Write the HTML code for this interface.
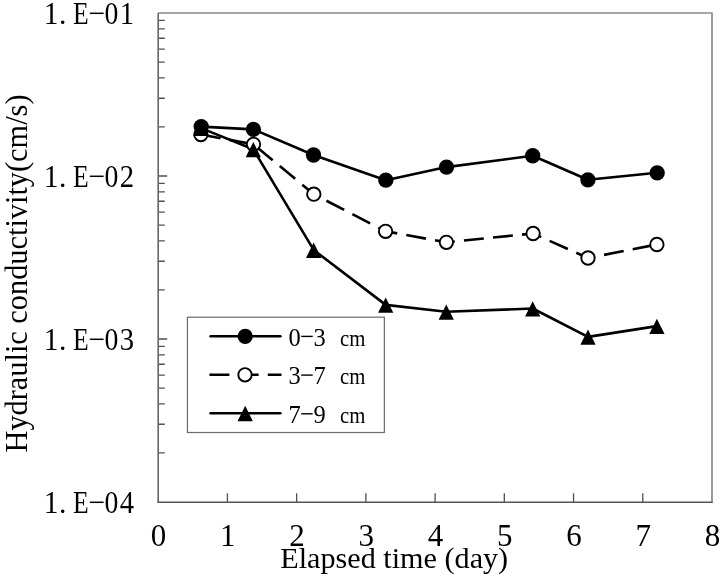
<!DOCTYPE html><html><head><meta charset="utf-8"><style>html,body{margin:0;padding:0;background:#fff;}svg{display:block;will-change:transform;}</style></head><body>
<svg width="720" height="577" viewBox="0 0 720 577">
<rect width="720" height="577" fill="#fff"/>
<path d="M158.20 126.93H164.80M158.20 98.23H164.80M158.20 77.86H164.80M158.20 62.07H164.80M158.20 49.16H164.80M158.20 38.25H164.80M158.20 28.80H164.80M158.20 20.46H164.80M158.20 289.93H164.80M158.20 261.23H164.80M158.20 240.86H164.80M158.20 225.07H164.80M158.20 212.16H164.80M158.20 201.25H164.80M158.20 191.80H164.80M158.20 183.46H164.80M158.20 176.00H167.20M158.20 452.93H164.80M158.20 424.23H164.80M158.20 403.86H164.80M158.20 388.07H164.80M158.20 375.16H164.80M158.20 364.25H164.80M158.20 354.80H164.80M158.20 346.46H164.80M158.20 339.00H167.20M227.42 502.00V493.20M296.65 502.00V493.20M365.88 502.00V493.20M435.10 502.00V493.20M504.32 502.00V493.20M573.55 502.00V493.20M642.77 502.00V493.20" stroke="#505050" stroke-width="1.3" fill="none"/>
<path d="M158.2 13.0H712.0V502.0" fill="none" stroke="#8a8a8a" stroke-width="1.7" stroke-linejoin="round"/>
<path d="M158.2 502.2V13.0" fill="none" stroke="#666" stroke-width="1.6"/>
<path d="M157.39999999999998 502.2H712.8" fill="none" stroke="#555" stroke-width="1.4"/>
<polyline points="201.0,128.1 253.3,149.3 313.65,249.95 385.7,304.9 446.25,311.8 532.7,308.5 588.0,336.9 656.9,326.1" fill="none" stroke="#000" stroke-width="2.6" stroke-linejoin="round"/>
<polyline points="200.9,134.5 253.5,144.3 313.8,194.2 385.6,231.3 446.4,242.3 533.1,233.5 588.0,258.0 656.9,244.5" fill="none" stroke="#000" stroke-width="2.6" stroke-dasharray="20 9.2" stroke-linejoin="round"/>
<polyline points="201.2,126.6 253.4,129.4 313.5,155.0 385.8,180.2 446.5,167.1 532.7,155.75 587.9,179.8 657.2,172.8" fill="none" stroke="#000" stroke-width="2.6" stroke-linejoin="round"/>
<circle cx="201.2" cy="126.6" r="7.65" fill="#000"/>
<circle cx="253.4" cy="129.4" r="7.65" fill="#000"/>
<circle cx="313.5" cy="155.0" r="7.65" fill="#000"/>
<circle cx="385.8" cy="180.2" r="7.65" fill="#000"/>
<circle cx="446.5" cy="167.1" r="7.65" fill="#000"/>
<circle cx="532.7" cy="155.75" r="7.65" fill="#000"/>
<circle cx="587.9" cy="179.8" r="7.65" fill="#000"/>
<circle cx="657.2" cy="172.8" r="7.65" fill="#000"/>
<circle cx="200.9" cy="134.5" r="6.7" fill="#fff" stroke="#000" stroke-width="1.9"/>
<circle cx="253.5" cy="144.3" r="6.7" fill="#fff" stroke="#000" stroke-width="1.9"/>
<circle cx="313.8" cy="194.2" r="6.7" fill="#fff" stroke="#000" stroke-width="1.9"/>
<circle cx="385.6" cy="231.3" r="6.7" fill="#fff" stroke="#000" stroke-width="1.9"/>
<circle cx="446.4" cy="242.3" r="6.7" fill="#fff" stroke="#000" stroke-width="1.9"/>
<circle cx="533.1" cy="233.5" r="6.7" fill="#fff" stroke="#000" stroke-width="1.9"/>
<circle cx="588.0" cy="258.0" r="6.7" fill="#fff" stroke="#000" stroke-width="1.9"/>
<circle cx="656.9" cy="244.5" r="6.7" fill="#fff" stroke="#000" stroke-width="1.9"/>
<path d="M201.00 120.75L208.65 136.05L193.35 136.05Z" fill="#000"/>
<path d="M253.30 141.95L260.95 157.25L245.65 157.25Z" fill="#000"/>
<path d="M313.65 242.60L321.30 257.90L306.00 257.90Z" fill="#000"/>
<path d="M385.70 297.55L393.35 312.85L378.05 312.85Z" fill="#000"/>
<path d="M446.25 304.45L453.90 319.75L438.60 319.75Z" fill="#000"/>
<path d="M532.70 301.15L540.35 316.45L525.05 316.45Z" fill="#000"/>
<path d="M588.00 329.55L595.65 344.85L580.35 344.85Z" fill="#000"/>
<path d="M656.90 318.75L664.55 334.05L649.25 334.05Z" fill="#000"/>
<rect x="187.45" y="317.2" width="196.9" height="115.3" fill="#fff" stroke="#6a6a6a" stroke-width="1.2"/>
<line x1="210.6" y1="336.3" x2="280.4" y2="336.3" stroke="#000" stroke-width="2.6" stroke-linecap="round"/>
<line x1="209.4" y1="374.8" x2="281.5" y2="374.8" stroke="#000" stroke-width="2.6" stroke-dasharray="20 9.2"/>
<line x1="210.6" y1="413.3" x2="280.4" y2="413.3" stroke="#000" stroke-width="2.6" stroke-linecap="round"/>
<circle cx="245.2" cy="336.3" r="7.65" fill="#000"/>
<circle cx="245.0" cy="374.8" r="6.7" fill="#fff" stroke="#000" stroke-width="1.9"/>
<path d="M245.20 405.85L252.85 421.15L237.55 421.15Z" fill="#000"/>
<text style="font-family:&quot;Liberation Serif&quot;,serif" font-size="24.5" text-anchor="middle" y="345.7"><tspan x="294.6">0</tspan><tspan x="319.5">3</tspan></text>
<line x1="301.2" x2="312.7" y1="336.4" y2="336.4" stroke="#000" stroke-width="1.4"/>
<text style="font-family:&quot;Liberation Serif&quot;,serif" font-size="23" x="340.1" y="345.5" textLength="25.4" lengthAdjust="spacingAndGlyphs">cm</text>
<text style="font-family:&quot;Liberation Serif&quot;,serif" font-size="24.5" text-anchor="middle" y="384.4"><tspan x="294.6">3</tspan><tspan x="319.5">7</tspan></text>
<line x1="301.2" x2="312.7" y1="375.1" y2="375.1" stroke="#000" stroke-width="1.4"/>
<text style="font-family:&quot;Liberation Serif&quot;,serif" font-size="23" x="340.1" y="384.2" textLength="25.4" lengthAdjust="spacingAndGlyphs">cm</text>
<text style="font-family:&quot;Liberation Serif&quot;,serif" font-size="24.5" text-anchor="middle" y="423.1"><tspan x="294.6">7</tspan><tspan x="319.5">9</tspan></text>
<line x1="301.2" x2="312.7" y1="413.8" y2="413.8" stroke="#000" stroke-width="1.4"/>
<text style="font-family:&quot;Liberation Serif&quot;,serif" font-size="23" x="340.1" y="422.9" textLength="25.4" lengthAdjust="spacingAndGlyphs">cm</text>
<text style="font-family:&quot;Liberation Serif&quot;,serif" font-size="29.5" text-anchor="middle" transform="matrix(1.0 0 0 1.08 51.1 23.80)">1</text>
<text style="font-family:&quot;Liberation Serif&quot;,serif" font-size="29.5" text-anchor="middle" transform="matrix(1.0 0 0 1.0 62.6 23.80)">.</text>
<text style="font-family:&quot;Liberation Serif&quot;,serif" font-size="29.5" text-anchor="middle" transform="matrix(0.87 0 0 1.08 80.95 23.80)">E</text>
<text style="font-family:&quot;Liberation Serif&quot;,serif" font-size="29.5" text-anchor="middle" transform="matrix(0.94 0 0 1.08 111.4 23.80)">0</text>
<text style="font-family:&quot;Liberation Serif&quot;,serif" font-size="29.5" text-anchor="middle" transform="matrix(0.97 0 0 1.08 126.8 23.80)">1</text>
<line x1="89.8" x2="103.6" y1="13.3" y2="13.3" stroke="#000" stroke-width="1.5"/>
<text style="font-family:&quot;Liberation Serif&quot;,serif" font-size="29.5" text-anchor="middle" transform="matrix(1.0 0 0 1.08 51.1 186.80)">1</text>
<text style="font-family:&quot;Liberation Serif&quot;,serif" font-size="29.5" text-anchor="middle" transform="matrix(1.0 0 0 1.0 62.6 186.80)">.</text>
<text style="font-family:&quot;Liberation Serif&quot;,serif" font-size="29.5" text-anchor="middle" transform="matrix(0.87 0 0 1.08 80.95 186.80)">E</text>
<text style="font-family:&quot;Liberation Serif&quot;,serif" font-size="29.5" text-anchor="middle" transform="matrix(0.94 0 0 1.08 111.4 186.80)">0</text>
<text style="font-family:&quot;Liberation Serif&quot;,serif" font-size="29.5" text-anchor="middle" transform="matrix(0.97 0 0 1.08 126.8 186.80)">2</text>
<line x1="89.8" x2="103.6" y1="176.3" y2="176.3" stroke="#000" stroke-width="1.5"/>
<text style="font-family:&quot;Liberation Serif&quot;,serif" font-size="29.5" text-anchor="middle" transform="matrix(1.0 0 0 1.08 51.1 349.80)">1</text>
<text style="font-family:&quot;Liberation Serif&quot;,serif" font-size="29.5" text-anchor="middle" transform="matrix(1.0 0 0 1.0 62.6 349.80)">.</text>
<text style="font-family:&quot;Liberation Serif&quot;,serif" font-size="29.5" text-anchor="middle" transform="matrix(0.87 0 0 1.08 80.95 349.80)">E</text>
<text style="font-family:&quot;Liberation Serif&quot;,serif" font-size="29.5" text-anchor="middle" transform="matrix(0.94 0 0 1.08 111.4 349.80)">0</text>
<text style="font-family:&quot;Liberation Serif&quot;,serif" font-size="29.5" text-anchor="middle" transform="matrix(0.97 0 0 1.08 126.8 349.80)">3</text>
<line x1="89.8" x2="103.6" y1="339.3" y2="339.3" stroke="#000" stroke-width="1.5"/>
<text style="font-family:&quot;Liberation Serif&quot;,serif" font-size="29.5" text-anchor="middle" transform="matrix(1.0 0 0 1.08 51.1 512.80)">1</text>
<text style="font-family:&quot;Liberation Serif&quot;,serif" font-size="29.5" text-anchor="middle" transform="matrix(1.0 0 0 1.0 62.6 512.80)">.</text>
<text style="font-family:&quot;Liberation Serif&quot;,serif" font-size="29.5" text-anchor="middle" transform="matrix(0.87 0 0 1.08 80.95 512.80)">E</text>
<text style="font-family:&quot;Liberation Serif&quot;,serif" font-size="29.5" text-anchor="middle" transform="matrix(0.94 0 0 1.08 111.4 512.80)">0</text>
<text style="font-family:&quot;Liberation Serif&quot;,serif" font-size="29.5" text-anchor="middle" transform="matrix(0.97 0 0 1.08 126.8 512.80)">4</text>
<line x1="89.8" x2="103.6" y1="502.3" y2="502.3" stroke="#000" stroke-width="1.5"/>
<text style="font-family:&quot;Liberation Serif&quot;,serif" font-size="31" text-anchor="middle" x="158.60" y="546">0</text>
<text style="font-family:&quot;Liberation Serif&quot;,serif" font-size="31" text-anchor="middle" x="227.82" y="546">1</text>
<text style="font-family:&quot;Liberation Serif&quot;,serif" font-size="31" text-anchor="middle" x="297.05" y="546">2</text>
<text style="font-family:&quot;Liberation Serif&quot;,serif" font-size="31" text-anchor="middle" x="366.27" y="546">3</text>
<text style="font-family:&quot;Liberation Serif&quot;,serif" font-size="31" text-anchor="middle" x="435.50" y="546">4</text>
<text style="font-family:&quot;Liberation Serif&quot;,serif" font-size="31" text-anchor="middle" x="504.72" y="546">5</text>
<text style="font-family:&quot;Liberation Serif&quot;,serif" font-size="31" text-anchor="middle" x="573.95" y="546">6</text>
<text style="font-family:&quot;Liberation Serif&quot;,serif" font-size="31" text-anchor="middle" x="643.17" y="546">7</text>
<text style="font-family:&quot;Liberation Serif&quot;,serif" font-size="31" text-anchor="middle" x="712.40" y="546">8</text>
<text style="font-family:&quot;Liberation Serif&quot;,serif" font-size="30" x="280.2" y="568" textLength="228" lengthAdjust="spacingAndGlyphs">Elapsed time (day)</text>
<text style="font-family:&quot;Liberation Serif&quot;,serif" font-size="31" transform="translate(27 452.5) rotate(-90)" textLength="358" lengthAdjust="spacingAndGlyphs">Hydraulic conductivity(cm/s)</text>
</svg></body></html>
